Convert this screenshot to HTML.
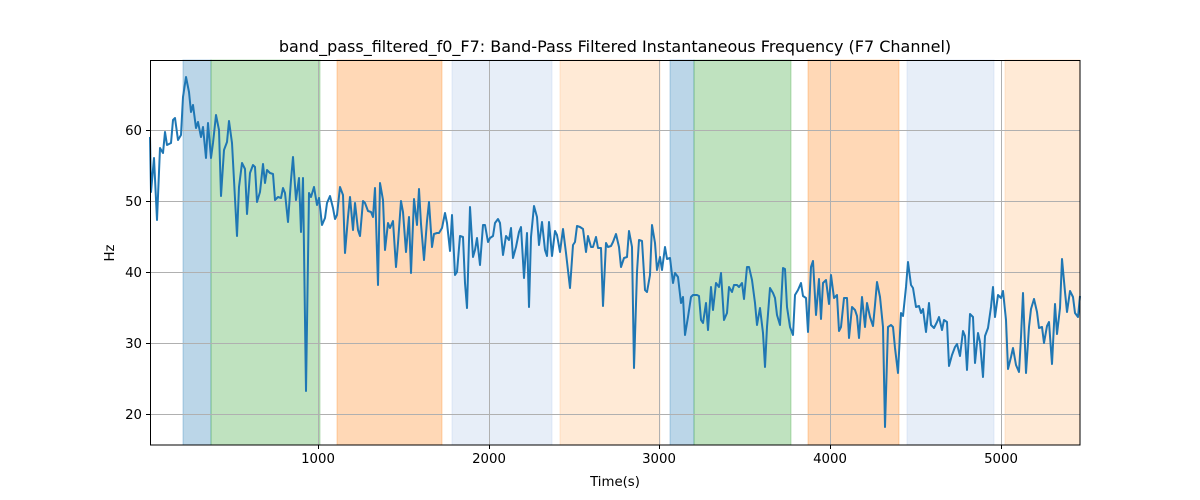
<!DOCTYPE html>
<html><head><meta charset="utf-8"><style>body{margin:0;background:#fff}svg{display:block;font-family:"DejaVu Sans","Liberation Sans",sans-serif}</style></head><body>
<svg width="1200" height="500" viewBox="0 0 1200 500">
<rect width="1200" height="500" fill="#fff"/>
<g stroke-width="1">
<rect x="183" y="60" width="28" height="385" fill="#1f77b4" fill-opacity="0.3" stroke="#1f77b4" stroke-opacity="0.3"/>
<rect x="211" y="60" width="109" height="385" fill="#2ca02c" fill-opacity="0.3" stroke="#2ca02c" stroke-opacity="0.3"/>
<rect x="337" y="60" width="105" height="385" fill="#ff7f0e" fill-opacity="0.3" stroke="#ff7f0e" stroke-opacity="0.3"/>
<rect x="452" y="60" width="100" height="385" fill="#aec7e8" fill-opacity="0.3" stroke="#aec7e8" stroke-opacity="0.3"/>
<rect x="560" y="60" width="100" height="385" fill="#ffbb78" fill-opacity="0.3" stroke="#ffbb78" stroke-opacity="0.3"/>
<rect x="670" y="60" width="24" height="385" fill="#1f77b4" fill-opacity="0.3" stroke="#1f77b4" stroke-opacity="0.3"/>
<rect x="694" y="60" width="97" height="385" fill="#2ca02c" fill-opacity="0.3" stroke="#2ca02c" stroke-opacity="0.3"/>
<rect x="808" y="60" width="91" height="385" fill="#ff7f0e" fill-opacity="0.3" stroke="#ff7f0e" stroke-opacity="0.3"/>
<rect x="907" y="60" width="87" height="385" fill="#aec7e8" fill-opacity="0.3" stroke="#aec7e8" stroke-opacity="0.3"/>
<rect x="1005" y="60" width="75" height="385" fill="#ffbb78" fill-opacity="0.3" stroke="#ffbb78" stroke-opacity="0.3"/>
</g>
<g stroke="#b0b0b0" stroke-width="1">
<line x1="318.5" y1="60" x2="318.5" y2="445"/><line x1="489.5" y1="60" x2="489.5" y2="445"/><line x1="659.5" y1="60" x2="659.5" y2="445"/><line x1="830.5" y1="60" x2="830.5" y2="445"/><line x1="1001.5" y1="60" x2="1001.5" y2="445"/>
<line x1="150" y1="130.5" x2="1080" y2="130.5"/><line x1="150" y1="201.5" x2="1080" y2="201.5"/><line x1="150" y1="272.5" x2="1080" y2="272.5"/><line x1="150" y1="343.5" x2="1080" y2="343.5"/><line x1="150" y1="414.5" x2="1080" y2="414.5"/>
</g>
<polyline fill="none" stroke="#1f77b4" stroke-width="2" stroke-linejoin="round" points="150,137 151,192 154,158 157,220 160,148 163,153 165,132 167,145 171,143 173,120 175,118 178,140 181,135 183,97 186,77 189,92 191,112 193,105 196,128 198,122 201,137 203,127 206,158 208,123 211,158 213,143 216,115 219,130 221,196 224,150 227,142 229,121 232,143 237,236 239,187 242,163 245,169 247,214 250,173 253,165 255,167 257,202 260,192 263,164 265,183 267,170 270,173 273,174 275,200 278,197 281,198 283,188 285,193 288,222 291,180 293,157 296,200 299,178 301,232 303,178 306,391 309,193 311,197 314,187 317,205 319,198 322,225 325,218 327,203 330,196 333,208 335,219 337,215 340,187 343,195 345,253 348,217 350,197 353,230 355,203 358,230 360,236 363,201 365,203 368,211 371,212 373,217 375,188 378,285 380,183 383,200 385,250 388,223 390,228 393,221 396,267 398,243 401,201 403,212 406,252 409,217 411,273 414,199 417,225 419,189 421,224 424,260 427,221 429,202 432,247 434,234 437,233 439,233 442,228 445,213 447,223 450,251 452,215 455,275 457,272 460,236 463,237 465,283 467,308 470,207 473,257 475,250 477,238 480,265 483,225 485,225 488,242 490,238 493,236 495,223 498,219 500,223 503,255 506,236 509,240 511,228 513,258 516,247 519,232 521,227 524,278 527,233 529,307 531,237 534,206 537,217 539,245 542,222 545,250 547,256 549,222 552,256 555,231 557,235 560,252 563,229 566,253 570,288 573,245 575,242 577,226 580,227 583,229 586,252 588,236 591,247 593,247 596,237 598,248 601,248 603,306 606,243 608,247 611,246 613,242 616,234 619,247 621,267 624,258 627,257 629,231 632,247 634,368 637,272 639,240 642,241 645,290 647,292 650,275 652,225 655,243 657,270 660,257 662,270 665,247 667,259 670,258 673,283 675,273 678,277 681,303 683,297 685,335 688,317 691,297 693,295 697,295 699,296 701,320 703,323 706,303 708,330 711,287 713,310 716,283 719,287 721,273 724,320 727,313 729,287 732,292 734,285 737,285 739,287 742,283 744,299 747,267 749,267 752,280 755,303 757,325 760,308 763,333 765,367 767,327 770,288 773,293 775,298 777,315 780,325 783,268 785,269 787,307 790,327 793,335 795,295 798,290 801,283 803,296 806,298 808,332 811,267 813,261 816,315 819,279 821,319 823,283 826,280 829,304 831,275 834,298 837,295 839,331 841,327 844,298 847,298 849,338 852,307 855,310 857,316 859,338 862,297 865,327 867,303 870,317 873,326 875,305 877,282 880,297 883,327 885,427 888,327 891,325 893,327 895,348 898,373 901,313 903,316 906,287 908,262 911,285 913,288 916,307 919,306 921,313 923,309 926,332 929,303 931,325 934,328 937,322 939,317 942,330 944,320 947,322 949,366 952,355 955,347 957,344 960,356 963,331 965,336 967,370 970,314 973,317 975,363 978,333 980,342 983,377 985,336 988,328 991,307 993,287 995,317 998,295 1001,298 1003,291 1006,320 1008,369 1011,357 1013,348 1016,365 1019,372 1021,337 1023,293 1026,373 1029,327 1031,309 1034,299 1037,312 1039,328 1042,327 1044,343 1047,326 1049,322 1052,364 1055,304 1057,334 1060,308 1062,259 1065,292 1067,312 1070,291 1073,297 1075,313 1078,317 1080,296"/>
<rect x="150.5" y="60.5" width="929.5" height="384.5" fill="none" stroke="#000" stroke-width="1"/>
<g stroke="#000" stroke-width="1">
<line x1="318.5" y1="445" x2="318.5" y2="449"/><line x1="489.5" y1="445" x2="489.5" y2="449"/><line x1="659.5" y1="445" x2="659.5" y2="449"/><line x1="830.5" y1="445" x2="830.5" y2="449"/><line x1="1001.5" y1="445" x2="1001.5" y2="449"/>
<line x1="146" y1="130.5" x2="150" y2="130.5"/><line x1="146" y1="201.5" x2="150" y2="201.5"/><line x1="146" y1="272.5" x2="150" y2="272.5"/><line x1="146" y1="343.5" x2="150" y2="343.5"/><line x1="146" y1="414.5" x2="150" y2="414.5"/>
</g>
<g font-size="13.3" fill="#000" text-anchor="middle">
<text x="318" y="463">1000</text><text x="489" y="463">2000</text><text x="659" y="463">3000</text><text x="830" y="463">4000</text><text x="1001" y="463">5000</text>
<text x="615" y="486">Time(s)</text>
</g>
<g font-size="13.3" fill="#000" text-anchor="end">
<text x="142" y="135">60</text><text x="142" y="206">50</text><text x="142" y="277">40</text><text x="142" y="348">30</text><text x="142" y="419">20</text>
</g>
<text transform="translate(114,253) rotate(-90)" font-size="13.3" text-anchor="middle">Hz</text>
<text x="615" y="52" font-size="16" text-anchor="middle">band_pass_filtered_f0_F7: Band-Pass Filtered Instantaneous Frequency (F7 Channel)</text>
</svg>
</body></html>
